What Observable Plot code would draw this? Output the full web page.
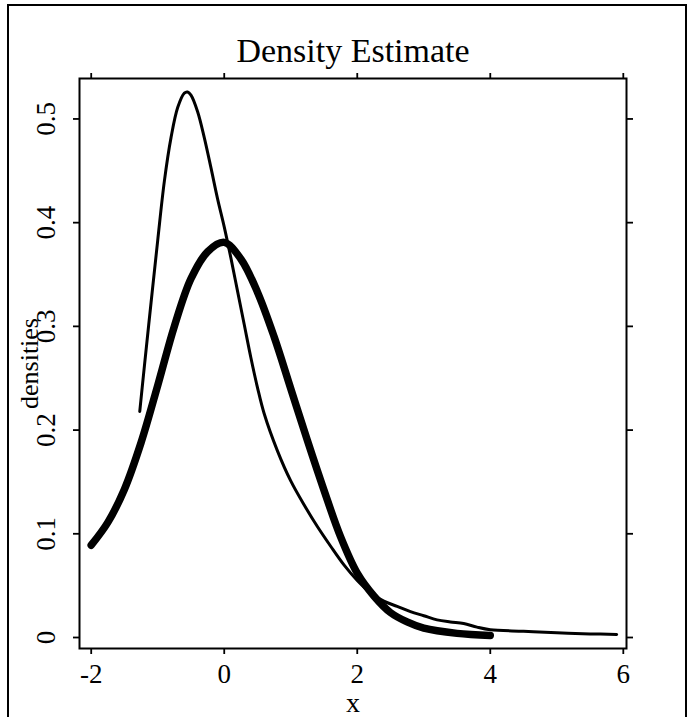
<!DOCTYPE html>
<html>
<head>
<meta charset="utf-8">
<script src="https://cdn.jsdelivr.net/npm/d3@7"></script>
<script src="https://cdn.jsdelivr.net/npm/@observablehq/plot@0.6"></script>
<style>
  html, body { margin: 0; padding: 0; background: #fff; }
  #wrap { position: relative; width: 688px; height: 717px; overflow: hidden; }
  #border { position: absolute; left: 7px; top: 4px; width: 680px; height: 760px; border: 2.5px solid #000; box-sizing: border-box; }
  #chart { position: absolute; left: 0; top: 0; }
</style>
</head>
<body>
<div id="wrap"><div id="border"></div><div id="chart"></div></div>
<script>
const titleText = "Density Estimate";
const xLabel = "x";
const yLabel = "densities";
const xTicks = [-2, 0, 2, 4, 6];
const xTickLabels = ["-2", "0", "2", "4", "6"];
const yTicks = [0, 0.1, 0.2, 0.3, 0.4, 0.5];
const yTickLabels = ["0", "0.1", "0.2", "0.3", "0.4", "0.5"];

// thin curve (sharp peak, long right tail)
const thinX = [-1.27, -1.2, -1.1, -1.0, -0.9, -0.8, -0.7, -0.6, -0.55, -0.5, -0.4, -0.3, -0.2, -0.1, 0.0, 0.1, 0.2, 0.3, 0.4, 0.5, 0.6, 0.8, 1.0, 1.2, 1.4, 1.6, 1.8, 2.0, 2.2, 2.4, 2.6, 2.8, 3.0, 3.2, 3.4, 3.6, 3.8, 4.0, 4.5, 5.0, 5.5, 5.9];
const thinY = [0.218, 0.262, 0.323, 0.383, 0.440, 0.482, 0.511, 0.525, 0.526, 0.523, 0.507, 0.482, 0.453, 0.423, 0.396, 0.366, 0.334, 0.302, 0.270, 0.241, 0.216, 0.180, 0.151, 0.128, 0.107, 0.088, 0.070, 0.055, 0.043, 0.035, 0.030, 0.025, 0.021, 0.017, 0.015, 0.0135, 0.010, 0.0075, 0.006, 0.0045, 0.0035, 0.003];

// thick curve (bell-shaped)
const thickX = [-2.0, -1.75, -1.5, -1.25, -1.0, -0.75, -0.5, -0.25, 0.0, 0.25, 0.5, 0.75, 1.0, 1.25, 1.5, 1.75, 2.0, 2.25, 2.5, 2.75, 3.0, 3.5, 4.0];
const thickY = [0.089, 0.111, 0.143, 0.188, 0.243, 0.300, 0.346, 0.372, 0.381, 0.365, 0.333, 0.290, 0.240, 0.190, 0.142, 0.097, 0.062, 0.040, 0.024, 0.015, 0.009, 0.004, 0.002];

const thin = thinX.map((x, i) => ({x, y: thinY[i]}));
const thick = thickX.map((x, i) => ({x, y: thickY[i]}));

const txt = {fill: "#000", textAnchor: "middle", lineAnchor: "middle"};

const chart = Plot.plot({
  width: 688,
  height: 717,
  marginLeft: 79,
  marginRight: 62,
  marginTop: 78,
  marginBottom: 69,
  style: {fontFamily: "'Liberation Serif', 'DejaVu Serif', serif", background: "transparent", color: "#000"},
  x: {domain: [-2.176, 6.048], label: null},
  y: {domain: [-0.0106, 0.539], label: null},
  marks: [
    Plot.frame({stroke: "#000", strokeWidth: 2}),
    Plot.axisX(xTicks, {anchor: "bottom", tickSize: 6, tickPadding: 9, fontSize: 27, strokeWidth: 1.8, tickFormat: (d) => xTickLabels[xTicks.indexOf(d)], label: null}),
    Plot.axisX(xTicks, {anchor: "top", tickSize: 6, strokeWidth: 1.8, tickFormat: () => "", label: null}),
    Plot.axisY(yTicks, {anchor: "left", tickSize: 6, strokeWidth: 1.8, tickFormat: () => "", label: null}),
    Plot.axisY(yTicks, {anchor: "right", tickSize: 6, strokeWidth: 1.8, tickFormat: () => "", label: null}),
    Plot.text(yTicks, {...txt, y: (d) => d, text: (d, i) => yTickLabels[i], frameAnchor: "left", rotate: -90, dx: -33, fontSize: 27}),
    Plot.text([yLabel], {...txt, text: (d) => d, frameAnchor: "left", rotate: -90, dx: -50, fontSize: 26}),
    Plot.text([xLabel], {...txt, text: (d) => d, frameAnchor: "bottom", dy: 55, fontSize: 28}),
    Plot.text([titleText], {...txt, text: (d) => d, frameAnchor: "top", dy: -27, fontSize: 34}),
    Plot.line(thick, {x: "x", y: "y", stroke: "#000", strokeWidth: 7.5, curve: "catmull-rom"}),
    Plot.line(thin, {x: "x", y: "y", stroke: "#000", strokeWidth: 3, curve: "catmull-rom"})
  ]
});
document.getElementById("chart").appendChild(chart);
</script>
</body>
</html>
